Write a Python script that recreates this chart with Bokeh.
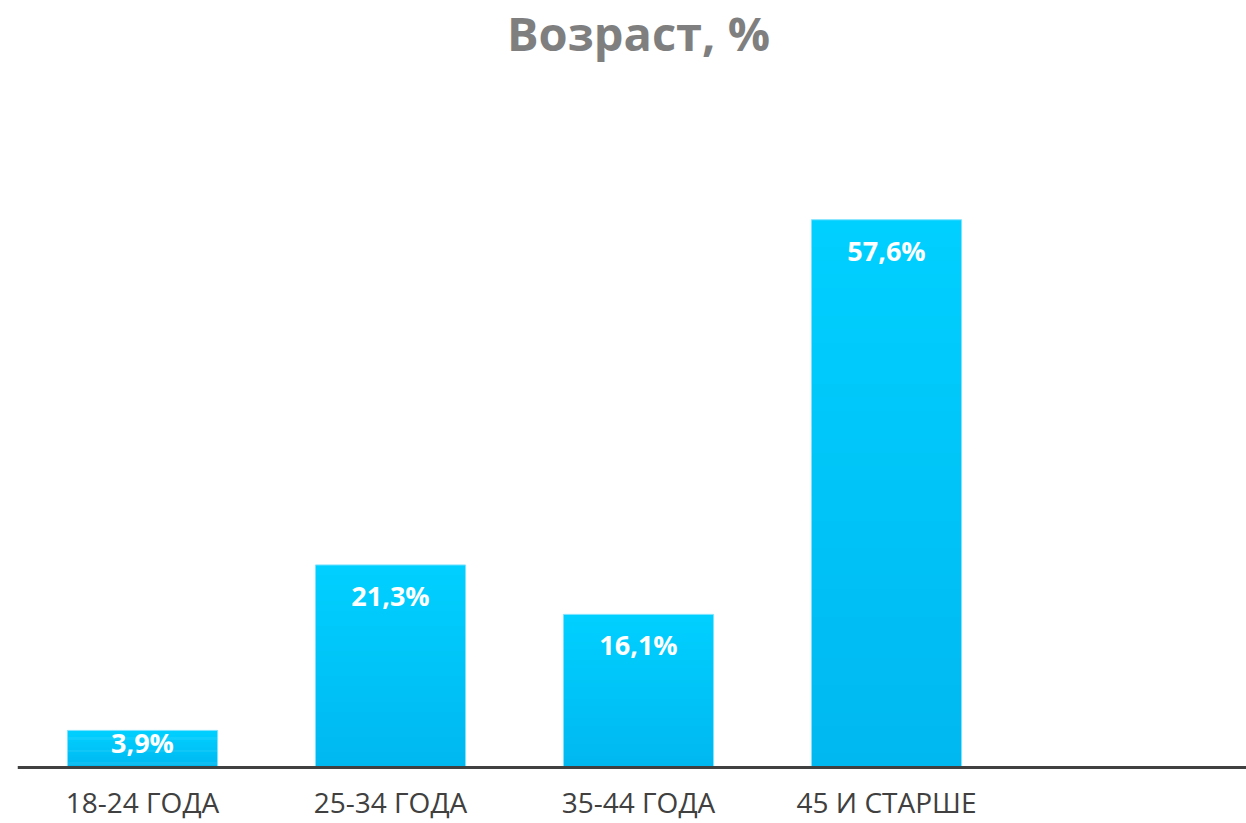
from bokeh.plotting import figure
from bokeh.models import Range1d, Span
from bokeh.core.properties import value
from bokeh.embed import file_html
from bokeh.resources import INLINE

# ---- data ----
categories = ["18-24 ГОДА", "25-34 ГОДА", "35-44 ГОДА", "45 И СТАРШЕ"]
shares = [3.9, 21.3, 16.1, 57.6]
title_text = "Возраст, %"

# ---- styling ----
top_rgb = (0, 208, 255)
bot_rgb = (0, 184, 240)
N_STRIPS = 40
bar_half = 0.3025
px_per_unit = 9.51
W, H = 1246, 823
LEFT = 17
SLOT = 248.0
ZERO_PX = 767

x_start = -0.504
x_end = x_start + (W - LEFT) / SLOT
y_start = (ZERO_PX - H) / px_per_unit
y_end = ZERO_PX / px_per_unit

p = figure(width=W, height=H, output_backend="svg", toolbar_location=None,
           x_range=Range1d(x_start, x_end), y_range=Range1d(y_start, y_end),
           min_border_left=LEFT, min_border_right=0, min_border_top=0, min_border_bottom=0)

# gradient bars built from the data values
xs = list(range(len(categories)))
lefts, rights, bottoms, tops, colors = [], [], [], [], []
for i, v in zip(xs, shares):
    for k in range(N_STRIPS):
        t = k / (N_STRIPS - 1)
        r = round(bot_rgb[0] + (top_rgb[0] - bot_rgb[0]) * t)
        g = round(bot_rgb[1] + (top_rgb[1] - bot_rgb[1]) * t)
        b = round(bot_rgb[2] + (top_rgb[2] - bot_rgb[2]) * t)
        lefts.append(i - bar_half)
        rights.append(i + bar_half)
        bottoms.append(v * k / N_STRIPS)
        tops.append(min(v, v * (k + 1.6) / N_STRIPS))
        colors.append("#%02x%02x%02x" % (r, g, b))
p.quad(left=lefts, right=rights, bottom=bottoms, top=tops, fill_color=colors, line_color=None)
p.quad(left=[i - bar_half for i in xs], right=[i + bar_half for i in xs],
       bottom=[0] * len(xs), top=shares, fill_color=None, line_color="#7fe3ff", line_width=1)

# baseline (category axis line)
p.add_layout(Span(location=0, dimension="width", line_color="#404040", line_width=3))

# value labels (white, inside the bar end)
label_y = [max(v - 30.5 / px_per_unit, v * 0.67) for v in shares]
label_txt = [("%.1f" % v).replace(".", ",") + "%" for v in shares]
p.text(x=xs, y=label_y, text=label_txt, text_align="center", text_baseline="alphabetic",
       text_color="white", text_font=value("Open Sans"), text_font_style="bold",
       text_font_size="27px")

# category labels
p.text(x=xs, y=[-34.5 / px_per_unit] * len(xs), text=categories, text_align="center",
       text_baseline="alphabetic", text_color="#404040", text_font=value("Open Sans"),
       text_font_size="28px")

# chart title, centred over the category slots
p.text(x=[len(categories) / 2], y=[(ZERO_PX - 32) / px_per_unit], text=[title_text],
       text_align="center", text_baseline="alphabetic", text_color="#7f7f7f",
       text_font=value("Open Sans"), text_font_style="bold", text_font_size="47px")

p.xaxis.visible = False
p.yaxis.visible = False
p.xgrid.visible = False
p.ygrid.visible = False
p.outline_line_color = None
p.background_fill_color = "white"
p.border_fill_color = "white"

open("out.html", "w").write(file_html(p, INLINE))
